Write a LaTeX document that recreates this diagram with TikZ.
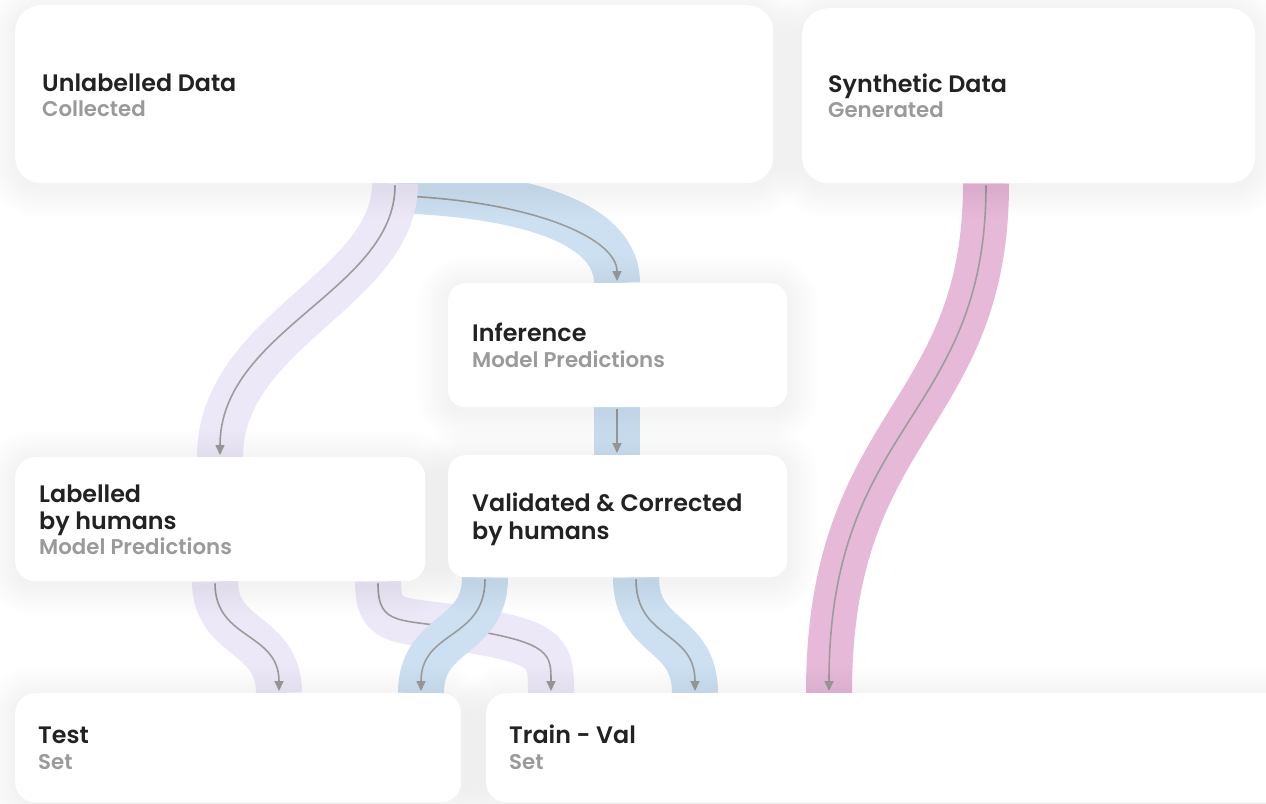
\documentclass[tikz,border=0pt]{standalone}
\usepackage{fontspec}
\setmainfont{Poppins}[BoldFont={Poppins SemiBold}]
\usetikzlibrary{arrows.meta}

\definecolor{lav}{HTML}{ECE8F8}
\definecolor{sky}{HTML}{CCE0F1}
\definecolor{rose}{HTML}{E6B9D8}
\definecolor{flowgrey}{HTML}{9C9C9C}
\definecolor{ink}{HTML}{222222}
\definecolor{muted}{HTML}{9A9A9A}

\pgfdeclarelayer{bands}
\pgfdeclarelayer{halo}
\pgfsetlayers{bands,halo,main}

\begin{document}
\begin{tikzpicture}[x=1pt,y=-1pt,
  card/.style={fill=white, draw=none, rounded corners=#1, inner sep=0pt, anchor=north west},
  title/.style={anchor=base west, inner sep=0pt, text=ink, font=\bfseries\fontsize{23.8}{28}\selectfont},
  sub/.style={anchor=base west, inner sep=0pt, text=muted, font=\bfseries\fontsize{21.3}{25}\selectfont},
  band/.style={draw=#1, line width=46pt, line cap=butt},
  flow/.style={draw=flowgrey, line width=1.6pt, shorten <=2pt, shorten >=2pt,
               -{Triangle[length=10pt,width=9pt]}},
]
\useasboundingbox (0,0) rectangle (1266,803);

% cards
\node[card=26pt, minimum width=758pt, minimum height=178pt] (unl) at (15,5) {};
\node[card=26pt, minimum width=453pt, minimum height=175pt] (syn) at (802,8) {};
\node[card=17pt, minimum width=339pt, minimum height=124pt] (inf) at (448,283) {};
\node[card=20pt, minimum width=410pt, minimum height=124pt] (lab) at (15,457) {};
\node[card=17pt, minimum width=339pt, minimum height=122pt] (val) at (448,455) {};
\node[card=20pt, minimum width=446pt, minimum height=109pt] (tst) at (15,693) {};
\node[card=20pt, minimum width=800pt, minimum height=109pt] (trv) at (486,693) {};

% card texts
\node[title] (unl-t) at (42,91) {Unlabelled Data};
\node[sub]   (unl-s) at (42,116) {Collected};
\node[title] (syn-t) at (828,92) {Synthetic Data};
\node[sub]   (syn-s) at (828,117) {Generated};
\node[title] (inf-t) at (472,341) {Inference};
\node[sub]   (inf-s) at (472,367) {Model Predictions};
\node[title] (lab-t) at (39,502) {Labelled};
\node[title] (lab-u) at (39,529) {by humans};
\node[sub]   (lab-s) at (39,554) {Model Predictions};
\node[title] (val-t) at (472,511) {Validated \& Corrected};
\node[title] (val-u) at (472,539) {by humans};
\node[title] (tst-t) at (38,743) {Test};
\node[sub]   (tst-s) at (38,769) {Set};
\node[title] (trv-t) at (509,743) {Train - Val};
\node[sub]   (trv-s) at (509,769) {Set};

% ports where the flows leave and enter the cards
\coordinate (unl-a) at (unl.south -| 395,0);
\coordinate (unl-b) at (395,190);
\coordinate (syn-a) at (syn.south -| 986,0);
\coordinate (inf-in) at (inf.north -| 617,0);
\coordinate (inf-out) at (inf.south -| 617,0);
\coordinate (lab-in) at (lab.north -| 220,0);
\coordinate (lab-a) at (lab.south -| 215,0);
\coordinate (lab-b) at (lab.south -| 378,0);
\coordinate (val-in) at (val.north -| 617,0);
\coordinate (val-a) at (val.south -| 485,0);
\coordinate (val-b) at (val.south -| 636,0);
\coordinate (tst-a) at (tst.north -| 279,0);
\coordinate (tst-b) at (tst.north -| 421,0);
\coordinate (trv-a) at (trv.north -| 551,0);
\coordinate (trv-b) at (trv.north -| 695,0);
\coordinate (trv-c) at (trv.north -| 829,0);

% soft halo round every card
\begin{pgfonlayer}{halo}
\foreach \n/\r in {unl/26,syn/26,inf/17,lab/20,val/17,tst/20,trv/20}{
  \foreach \i in {1,...,12}{
    \pgfmathsetmacro\rr{\r+\i*2.6}
    \pgfmathsetmacro\dd{\i*2.6}
    \fill[black, opacity=0.0055, rounded corners=\rr pt]
      ([xshift=-\dd pt, yshift=\dd pt-4pt]\n.north west) rectangle
      ([xshift=\dd pt, yshift=-\dd pt-4pt]\n.south east);
  }
}
\end{pgfonlayer}

% flows
\begin{pgfonlayer}{bands}
\fill[white] (0,0) rectangle (1266,803);

% unlabelled -> inference
\draw[band=sky] (unl-b) .. controls (540,195) and (617,228) .. (inf-in);
\draw[flow] (405,196) .. controls (540,203) and (617,240) .. (inf-in);

% unlabelled -> labelled
\draw[band=lav] (unl-a) .. controls (395,290) and (220,330) .. (lab-in);
\draw[flow] (unl-a) .. controls (395,290) and (220,330) .. (lab-in);

% inference -> validated
\draw[band=sky] (inf-out) -- (val-in);
\draw[flow] (inf-out) -- (val-in);

% labelled -> test
\draw[band=lav] (lab-a) .. controls (215,640) and (279,632) .. (tst-a);
\draw[flow] (lab-a) .. controls (215,640) and (279,632) .. (tst-a);

% labelled -> train-val
\draw[band=lav] (lab-b) .. controls (378,628) and (400,618) .. (470,630)
  .. controls (551,643) and (551,655) .. (trv-a);
\draw[flow] (lab-b) .. controls (378,628) and (400,618) .. (470,630)
  .. controls (551,643) and (551,655) .. (trv-a);

% validated -> test
\draw[band=sky] (val-a) .. controls (485,640) and (421,630) .. (tst-b);
\draw[flow] (val-a) .. controls (485,640) and (421,630) .. (tst-b);

% validated -> train-val
\draw[band=sky] (val-b) .. controls (636,640) and (695,630) .. (trv-b);
\draw[flow] (val-b) .. controls (636,640) and (695,630) .. (trv-b);

% synthetic -> train-val
\draw[band=rose] (syn-a) .. controls (986,420) and (829,420) .. (trv-c);
\draw[flow] (syn-a) .. controls (986,420) and (829,420) .. (trv-c);
\end{pgfonlayer}
\end{tikzpicture}
\end{document}
